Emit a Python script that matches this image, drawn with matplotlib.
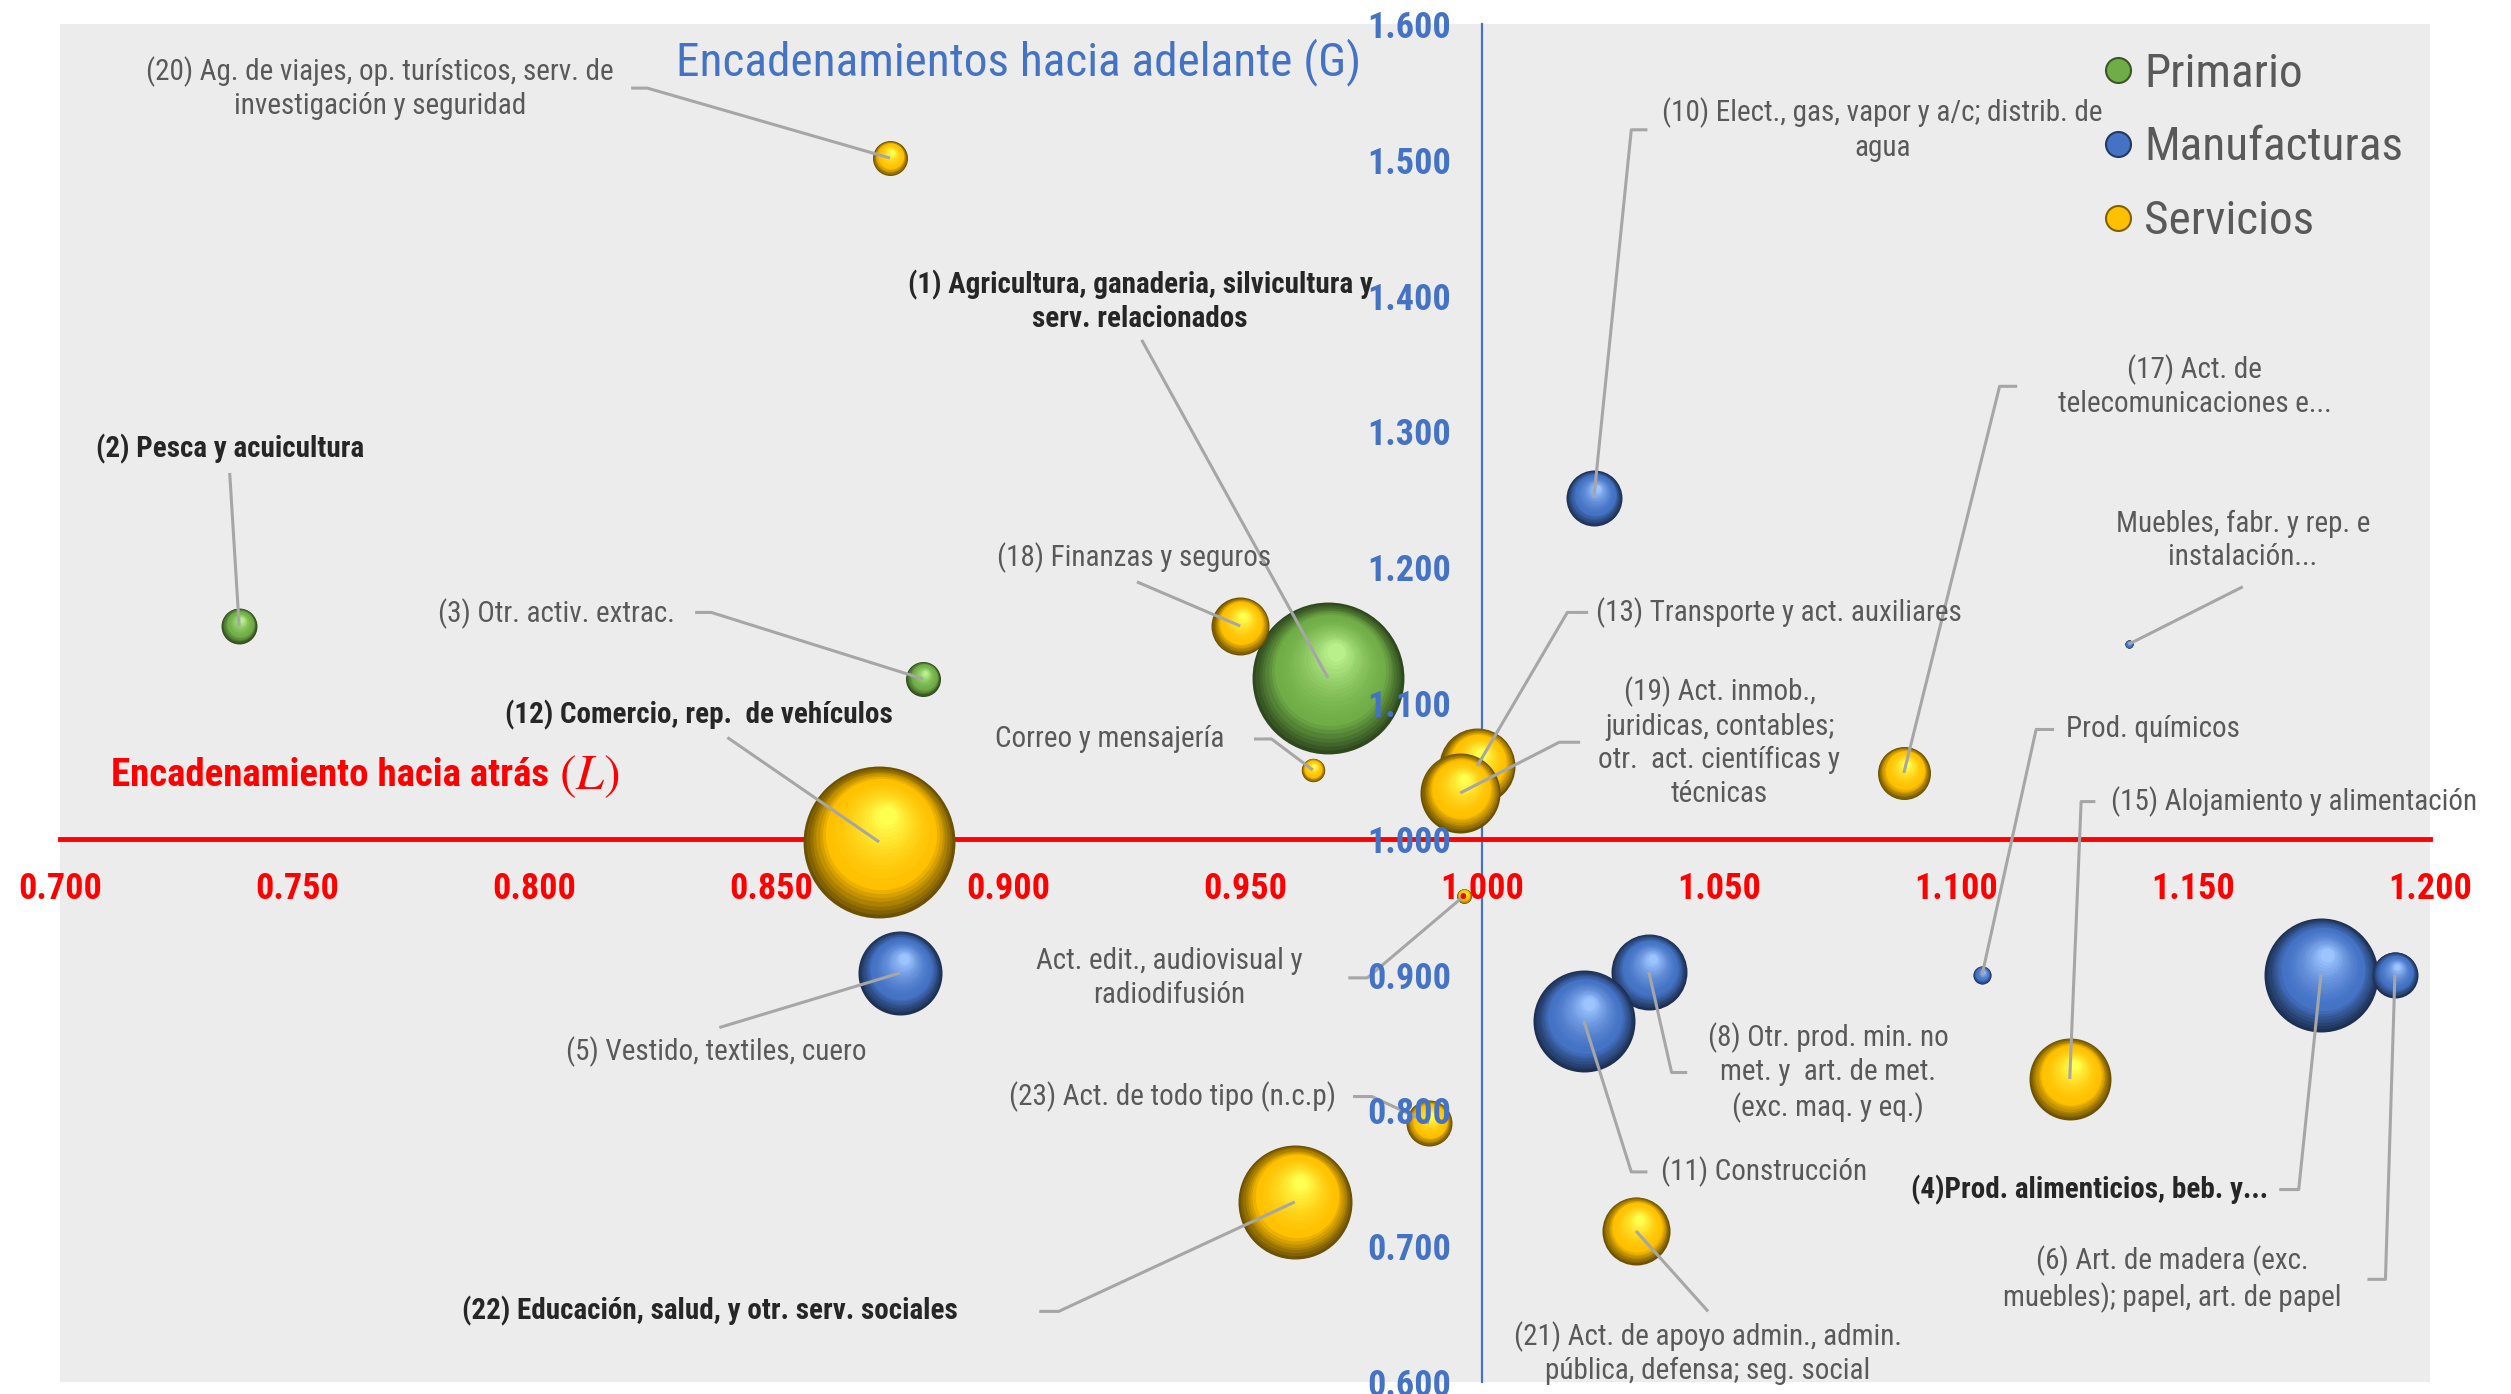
import matplotlib.pyplot as plt
import matplotlib.colors as mcolors
from matplotlib.lines import Line2D
import numpy as np

plt.rcParams['font.family'] = ['Roboto Condensed', 'Lato', 'DejaVu Sans']
plt.rcParams['mathtext.fontset'] = 'stix'

# ---- datos: L (hacia atrás), G (hacia adelante), peso (% aprox.) ----
primario_nombres = ['(1) Agricultura, ganaderia, silvicultura y\nserv. relacionados',
                    '(2) Pesca y acuicultura',
                    '(3) Otr. activ. extrac.']
primario_L = [0.9675, 0.7378, 0.8821]
primario_G = [1.1184, 1.1567, 1.1177]
primario_peso = [16.8, 0.94, 0.89]

manuf_nombres = ['(10) Elect., gas, vapor y a/c; distrib. de\nagua',
                 'Muebles, fabr. y rep. e\ninstalación...',
                 'Prod. químicos',
                 '(5) Vestido, textiles, cuero',
                 '(8) Otr. prod. min. no\nmet. y  art. de met.\n(exc. maq. y eq.)',
                 '(11) Construcción',
                 '(4)Prod. alimenticios, beb. y...',
                 '(6) Art. de madera (exc.\nmuebles); papel, art. de papel']
manuf_L = [1.0236, 1.1365, 1.1055, 0.8772, 1.0352, 1.0215, 1.1770, 1.1926]
manuf_G = [1.2510, 1.1434, 0.8997, 0.9012, 0.9020, 0.8658, 0.9000, 0.9000]
manuf_peso = [2.28, 0.05, 0.24, 5.14, 4.20, 7.57, 9.46, 1.54]

serv_nombres = ['(20) Ag. de viajes, op. turísticos, serv. de\ninvestigación y seguridad',
                '(18) Finanzas y seguros',
                'Correo y mensajería',
                '(12) Comercio, rep.  de vehículos',
                '(13) Transporte y act. auxiliares',
                '(19) Act. inmob.,\njuridicas, contables;\notr.  act. científicas y\ntécnicas',
                '(17) Act. de\ntelecomunicaciones e...',
                '(15) Alojamiento y alimentación',
                'Act. edit., audiovisual y\nradiodifusión',
                '(23) Act. de todo tipo (n.c.p)',
                '(22) Educación, salud, y otr. serv. sociales',
                '(21) Act. de apoyo admin., admin.\npública, defensa; seg. social']
serv_L = [0.8751, 0.9490, 0.9643, 0.8728, 0.9990, 0.9954, 1.0890, 1.1240,
          0.9962, 0.9888, 0.9605, 1.0325]
serv_G = [1.5013, 1.1567, 1.0507, 0.9977, 1.0536, 1.0337, 1.0485, 0.8231,
          0.9579, 0.7907, 0.7326, 0.7112]
serv_peso = [0.89, 2.45, 0.40, 16.8, 4.20, 4.66, 2.04, 4.89, 0.16, 1.54, 9.46, 3.37]

# ---- posiciones de etiquetas y lineas guia (texto x, y, puntos de guia, negrita) ----
etiquetas = {
    primario_nombres[0]: (0.9279, 1.3958, [(0.9282, 1.3674)], True),
    primario_nombres[1]: (0.7358, 1.2871, [(0.7358, 1.2694)], True),
    primario_nombres[2]: (0.8047, 1.1655, [(0.8340, 1.1667), (0.8374, 1.1667)], False),
    manuf_nombres[0]: (1.0845, 1.5221, [(1.0349, 1.5221), (1.0315, 1.5221)], False),
    manuf_nombres[1]: (1.1605, 1.2198, [(1.1605, 1.1856)], False),
    manuf_nombres[2]: (1.1416, 1.0805, [(1.1207, 1.0805), (1.1169, 1.0805)], False),
    manuf_nombres[3]: (0.8384, 0.8432, [(0.8391, 0.8610)], False),
    manuf_nombres[4]: (1.0730, 0.8279, [(1.0433, 0.8279), (1.0400, 0.8279)], False),
    manuf_nombres[5]: (1.0595, 0.7547, [(1.0349, 0.7547), (1.0315, 0.7547)], False),
    manuf_nombres[6]: (1.1281, 0.7417, [(1.1682, 0.7417), (1.1723, 0.7417)], True),
    manuf_nombres[7]: (1.1456, 0.6756, [(1.1868, 0.6756), (1.1906, 0.6756)], False),
    serv_nombres[0]: (0.7675, 1.5528, [(0.8205, 1.5528), (0.8239, 1.5528)], False),
    serv_nombres[1]: (0.9265, 1.2069, [(0.9272, 1.1892)], False),
    serv_nombres[2]: (0.9215, 1.0735, [(0.9519, 1.0735), (0.9556, 1.0735)], False),
    serv_nombres[3]: (0.8347, 1.0912, [(0.8408, 1.0746)], True),
    serv_nombres[4]: (1.0626, 1.1667, [(1.0224, 1.1667), (1.0180, 1.1667)], False),
    serv_nombres[5]: (1.0501, 1.0711, [(1.0207, 1.0711), (1.0163, 1.0711)], False),
    serv_nombres[6]: (1.1504, 1.3332, [(1.1129, 1.3332), (1.1092, 1.3332)], False),
    serv_nombres[7]: (1.1713, 1.0274, [(1.1294, 1.0274), (1.1264, 1.0274)], False),
    serv_nombres[8]: (0.9340, 0.8976, [(0.9718, 0.8976), (0.9758, 0.8976)], False),
    serv_nombres[9]: (0.9346, 0.8102, [(0.9728, 0.8102), (0.9768, 0.8102)], False),
    serv_nombres[10]: (0.8371, 0.6520, [(0.9066, 0.6520), (0.9107, 0.6520)], True),
    serv_nombres[11]: (1.0477, 0.6213, [(1.0477, 0.6520)], False),
}

series = [
    ('Primario', primario_nombres, primario_L, primario_G, primario_peso, '#70AD47', '#B9F08C'),
    ('Manufacturas', manuf_nombres, manuf_L, manuf_G, manuf_peso, '#4472C4', '#9CC4FF'),
    ('Servicios', serv_nombres, serv_L, serv_G, serv_peso, '#FFC000', '#FFFF50'),
]

ESCALA = 712.0  # pt^2 por unidad de peso
N_CAPAS = 24

fig = plt.figure(figsize=(25.11, 13.94), dpi=100)
ax = fig.add_axes([60 / 2511, 1 - 1382 / 1394, 2370 / 2511, 1358 / 1394])
ax.set_facecolor('#ECECEC')
ax.set_xlim(0.7, 1.2)
ax.set_ylim(0.6, 1.6)

# datos por punto (para desplazar el brillo de las esferas)
ax_w_pt = ax.get_position().width * fig.get_figwidth() * 72
ax_h_pt = ax.get_position().height * fig.get_figheight() * 72
dx_pt = 0.5 / ax_w_pt
dy_pt = 1.0 / ax_h_pt


def esfera(x, y, s, color, brillo, z):
    base = np.array(mcolors.to_rgb(color))
    oscuro = base * 0.42
    luz = np.array(mcolors.to_rgb(brillo))
    r_pt = np.sqrt(s) / 2
    for t in np.linspace(0, 1, N_CAPAS):
        if t < 0.3:
            c = oscuro + (base - oscuro) * (t / 0.3)
        else:
            c = base + (luz - base) * ((t - 0.3) / 0.7) ** 1.6
        f = 1 - 0.88 * t
        ox = 0.10 * r_pt * t * dx_pt
        oy = 0.34 * r_pt * t * dy_pt
        ax.scatter([x + ox], [y + oy], s=s * f ** 2, color=c, linewidths=0, zorder=z)


z = 3
for nombre, noms, L, G, peso, col, brillo in series:
    for i in range(len(L)):
        esfera(L[i], G[i], peso[i] * ESCALA, col, brillo, z)
        z += 0.01

# etiquetas y lineas guia
for nombre, noms, L, G, peso, col, brillo in series:
    for i in range(len(L)):
        tx, ty, guia, negrita = etiquetas[noms[i]]
        xs = [p[0] for p in guia] + [L[i]]
        ys = [p[1] for p in guia] + [G[i]]
        ax.plot(xs, ys, color='#A6A6A6', lw=2.2, zorder=5, solid_capstyle='butt')
        ax.text(tx, ty, noms[i], ha='center', va='center', fontsize=21,
                fontweight='bold' if negrita else 'normal',
                color='#262626' if negrita else '#595959',
                linespacing=1.25, zorder=6)

# ejes cruzados en (1, 1)
ax.spines['left'].set_position(('data', 1.0))
ax.spines['bottom'].set_position(('data', 1.0))
ax.spines['left'].set_color('#4472C4')
ax.spines['left'].set_linewidth(1.6)
ax.spines['bottom'].set_color('#FF0000')
ax.spines['bottom'].set_linewidth(3.5)
ax.spines['top'].set_visible(False)
ax.spines['right'].set_visible(False)
for sp in ax.spines.values():
    sp.set_zorder(1)

xt = np.arange(0.70, 1.2001, 0.05)
yt = np.arange(0.60, 1.6001, 0.10)
ax.set_xticks(xt)
ax.set_yticks(yt)
ax.set_xticklabels(['{:.3f}'.format(v) for v in xt])
ax.set_yticklabels(['{:.3f}'.format(v) for v in yt])
ax.tick_params(axis='x', length=0, pad=23, labelsize=26, labelcolor='#FF0000')
ax.tick_params(axis='y', length=0, pad=22, labelsize=26, labelcolor='#4472C4')
for lab in ax.get_xticklabels() + ax.get_yticklabels():
    lab.set_fontweight('bold')
ax.xaxis.set_zorder(8)
ax.yaxis.set_zorder(8)

ax.text(0.9022, 1.5717, 'Encadenamientos hacia adelante (G)', ha='center', va='center',
        fontsize=34, color='#4472C4', zorder=7)
ax.text(0.7108, 1.0463, 'Encadenamiento hacia atrás', ha='left', va='center',
        fontsize=28, fontweight='bold', color='#FF0000', zorder=7)
ax.text(0.8053, 1.0463, r'$(L)$', ha='left', va='center',
        fontsize=36, color='#FF0000', zorder=7)

handles = [Line2D([], [], marker='o', linestyle='', markersize=18,
                  markerfacecolor=s[5], markeredgecolor=np.array(mcolors.to_rgb(s[5])) * 0.5,
                  markeredgewidth=1.5) for s in series]
leg = ax.legend(handles, [s[0] for s in series], loc='upper left',
                bbox_to_anchor=(0.8435, 1.011), frameon=False, fontsize=34,
                labelspacing=0.63, handlelength=0.7, handletextpad=0.2)
for t in leg.get_texts():
    t.set_color('#595959')
leg.set_zorder(9)

fig.savefig('out.png', dpi=100)
